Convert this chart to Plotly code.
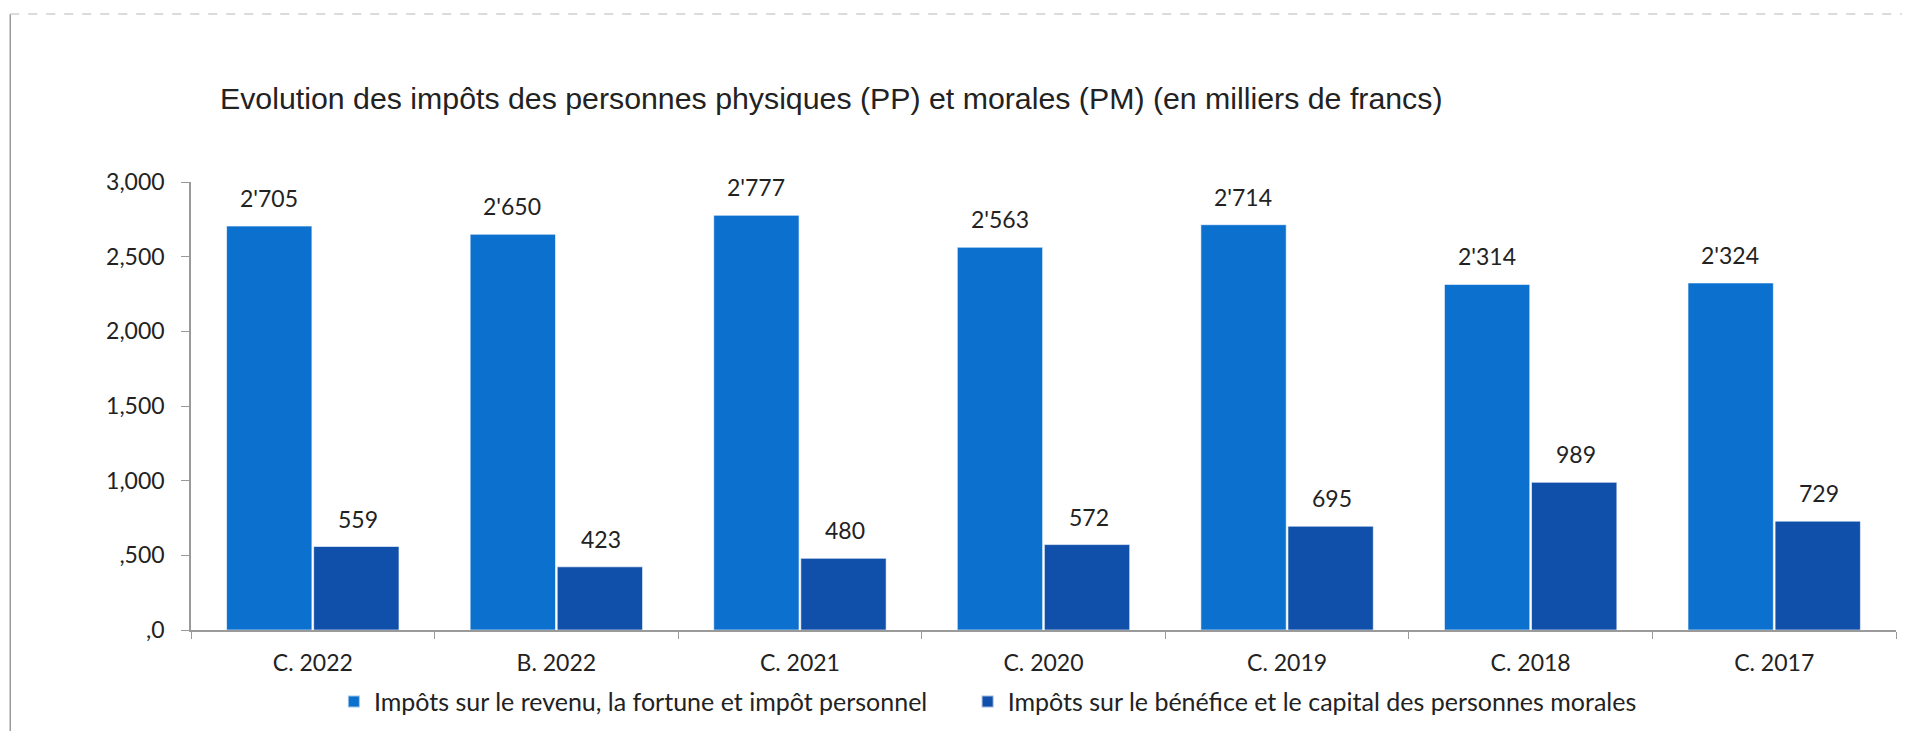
import plotly.graph_objects as go

# ---- data ----
categories = ["C. 2022", "B. 2022", "C. 2021", "C. 2020", "C. 2019", "C. 2018", "C. 2017"]
pp_values = [2705, 2650, 2777, 2563, 2714, 2314, 2324]
pm_values = [559, 423, 480, 572, 695, 989, 729]
y_tickvals = [0, 500, 1000, 1500, 2000, 2500, 3000]
y_ticktext = [",0", ",500", "1,000", "1,500", "2,000", "2,500", "3,000"]

pp_name = "Impôts sur le revenu, la fortune et impôt personnel"
pm_name = "Impôts sur le bénéfice et le capital des personnes morales"
title = "Evolution des impôts des personnes physiques (PP) et morales (PM) (en milliers de francs)"

c_pp = "#0B70CE"
c_pm = "#104FAA"
txt = "#222222"
font_main = "Lato, 'Open Sans', sans-serif"


def swiss(v):
    return f"{v:,}".replace(",", "'")


fig = go.Figure()
fig.add_trace(go.Bar(x=categories, y=pp_values, name=pp_name, marker_color=c_pp, legend="legend",
                     marker_line=dict(width=1, color="rgba(255,255,255,0.6)")))
fig.add_trace(go.Bar(x=categories, y=pm_values, name=pm_name, marker_color=c_pm, legend="legend2",
                     marker_line=dict(width=1, color="rgba(255,255,255,0.6)")))

# ---- value labels ----
for cat, v in zip(categories, pp_values):
    fig.add_annotation(x=cat, y=v, text=swiss(v), showarrow=False, xshift=-44, yshift=12,
                       yanchor="bottom", font=dict(size=23, color=txt, family=font_main))
for cat, v in zip(categories, pm_values):
    fig.add_annotation(x=cat, y=v, text=swiss(v), showarrow=False, xshift=45, yshift=12,
                       yanchor="bottom", font=dict(size=23, color=txt, family=font_main))

# ---- frame lines of the scanned page ----
fig.add_shape(type="line", xref="paper", yref="paper", x0=-0.106, x1=-0.106, y0=1.375, y1=-0.25,
              line=dict(color="#9a9a9a", width=1.5))
fig.add_shape(type="line", xref="paper", yref="paper", x0=-0.106, x1=1.013, y0=1.375, y1=1.375,
              line=dict(color="#cfcfcf", width=1.5, dash="dash"))

legend_common = dict(orientation="h", y=-0.16, yanchor="middle", xanchor="left",
                     font=dict(size=25, color=txt, family=font_main), itemsizing="constant",
                     bgcolor="rgba(0,0,0,0)")

fig.update_layout(
    width=1910, height=731,
    margin=dict(l=183, r=22, t=174, b=109, autoexpand=False),
    paper_bgcolor="white", plot_bgcolor="white",
    title=dict(text=title, x=212 / 1910, xanchor="left", y=1 - 90 / 731, yanchor="middle",
               font=dict(size=30.3, color=txt, family="'Liberation Sans', Arial, sans-serif")),
    barmode="group", bargap=0.285, bargroupgap=0.02,
    showlegend=True,
    legend=dict(x=0.0838, **legend_common),
    legend2=dict(x=0.4555, **legend_common),
    font=dict(family=font_main, color=txt),
)
fig.update_xaxes(showline=True, linecolor="#9a9a9a", linewidth=1.5, ticks="outside", tickson="boundaries",
                 ticklen=7, tickcolor="#9a9a9a", ticklabelstandoff=12,
                 tickfont=dict(size=23, color=txt, family=font_main), showgrid=False)
fig.update_yaxes(range=[0, 3000], tickvals=y_tickvals, ticktext=y_ticktext, showline=True,
                 linecolor="#9a9a9a", linewidth=1.5, ticks="outside", ticklen=8, tickcolor="#9a9a9a",
                 ticklabelstandoff=12, showgrid=False, zeroline=False,
                 tickfont=dict(size=23, color=txt, family=font_main))

fig.write_html("out.html")
